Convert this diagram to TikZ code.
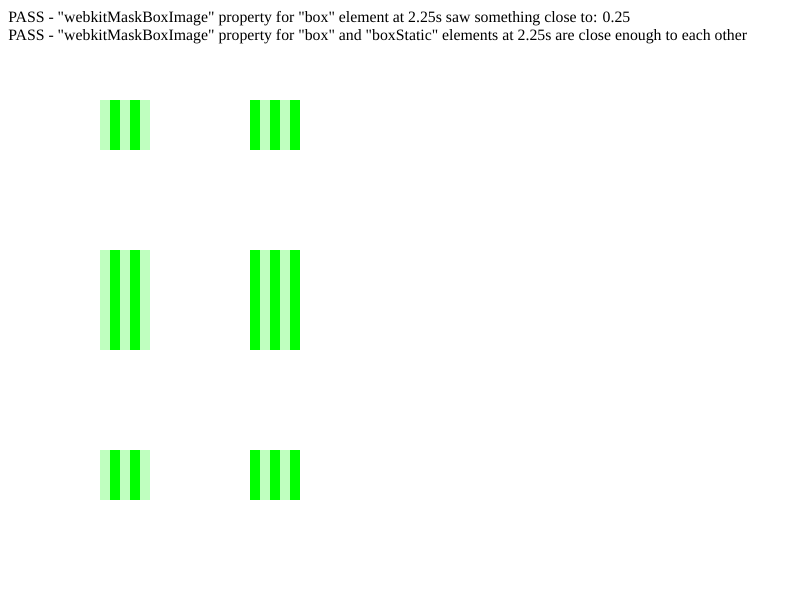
\documentclass[tikz,border=0pt]{standalone}
\usepackage{fontspec}
\setmainfont{Liberation Serif}[Ligatures=TeXOff]
\definecolor{stripegreen}{RGB}{0,255,0}
\definecolor{palegreen}{RGB}{191,255,191}
\begin{document}
\begin{tikzpicture}[x=0.75pt,y=-0.75pt,font=\fontsize{11.85}{13.5}\selectfont]
  \useasboundingbox (0,0) rectangle (800,600);
  \node[anchor=base west,inner sep=0] (pass1) at (8,22) {PASS - "webkitMaskBoxImage" property for "box" element at 2.25s saw something close to: 0.25};
  \node[anchor=base west,inner sep=0] (pass2) at (8,40) {PASS - "webkitMaskBoxImage" property for "box" and "boxStatic" elements at 2.25s are close enough to each other};
  \foreach \t/\b in {100/150,250/350,450/500} {
    \fill[palegreen] (100,\t) rectangle (150,\b);
    \fill[palegreen] (250,\t) rectangle (300,\b);
    \foreach \x in {110,130,250,270,290} {
      \fill[stripegreen] (\x,\t) rectangle (\x+10,\b);
    }
  }
\end{tikzpicture}
\end{document}
